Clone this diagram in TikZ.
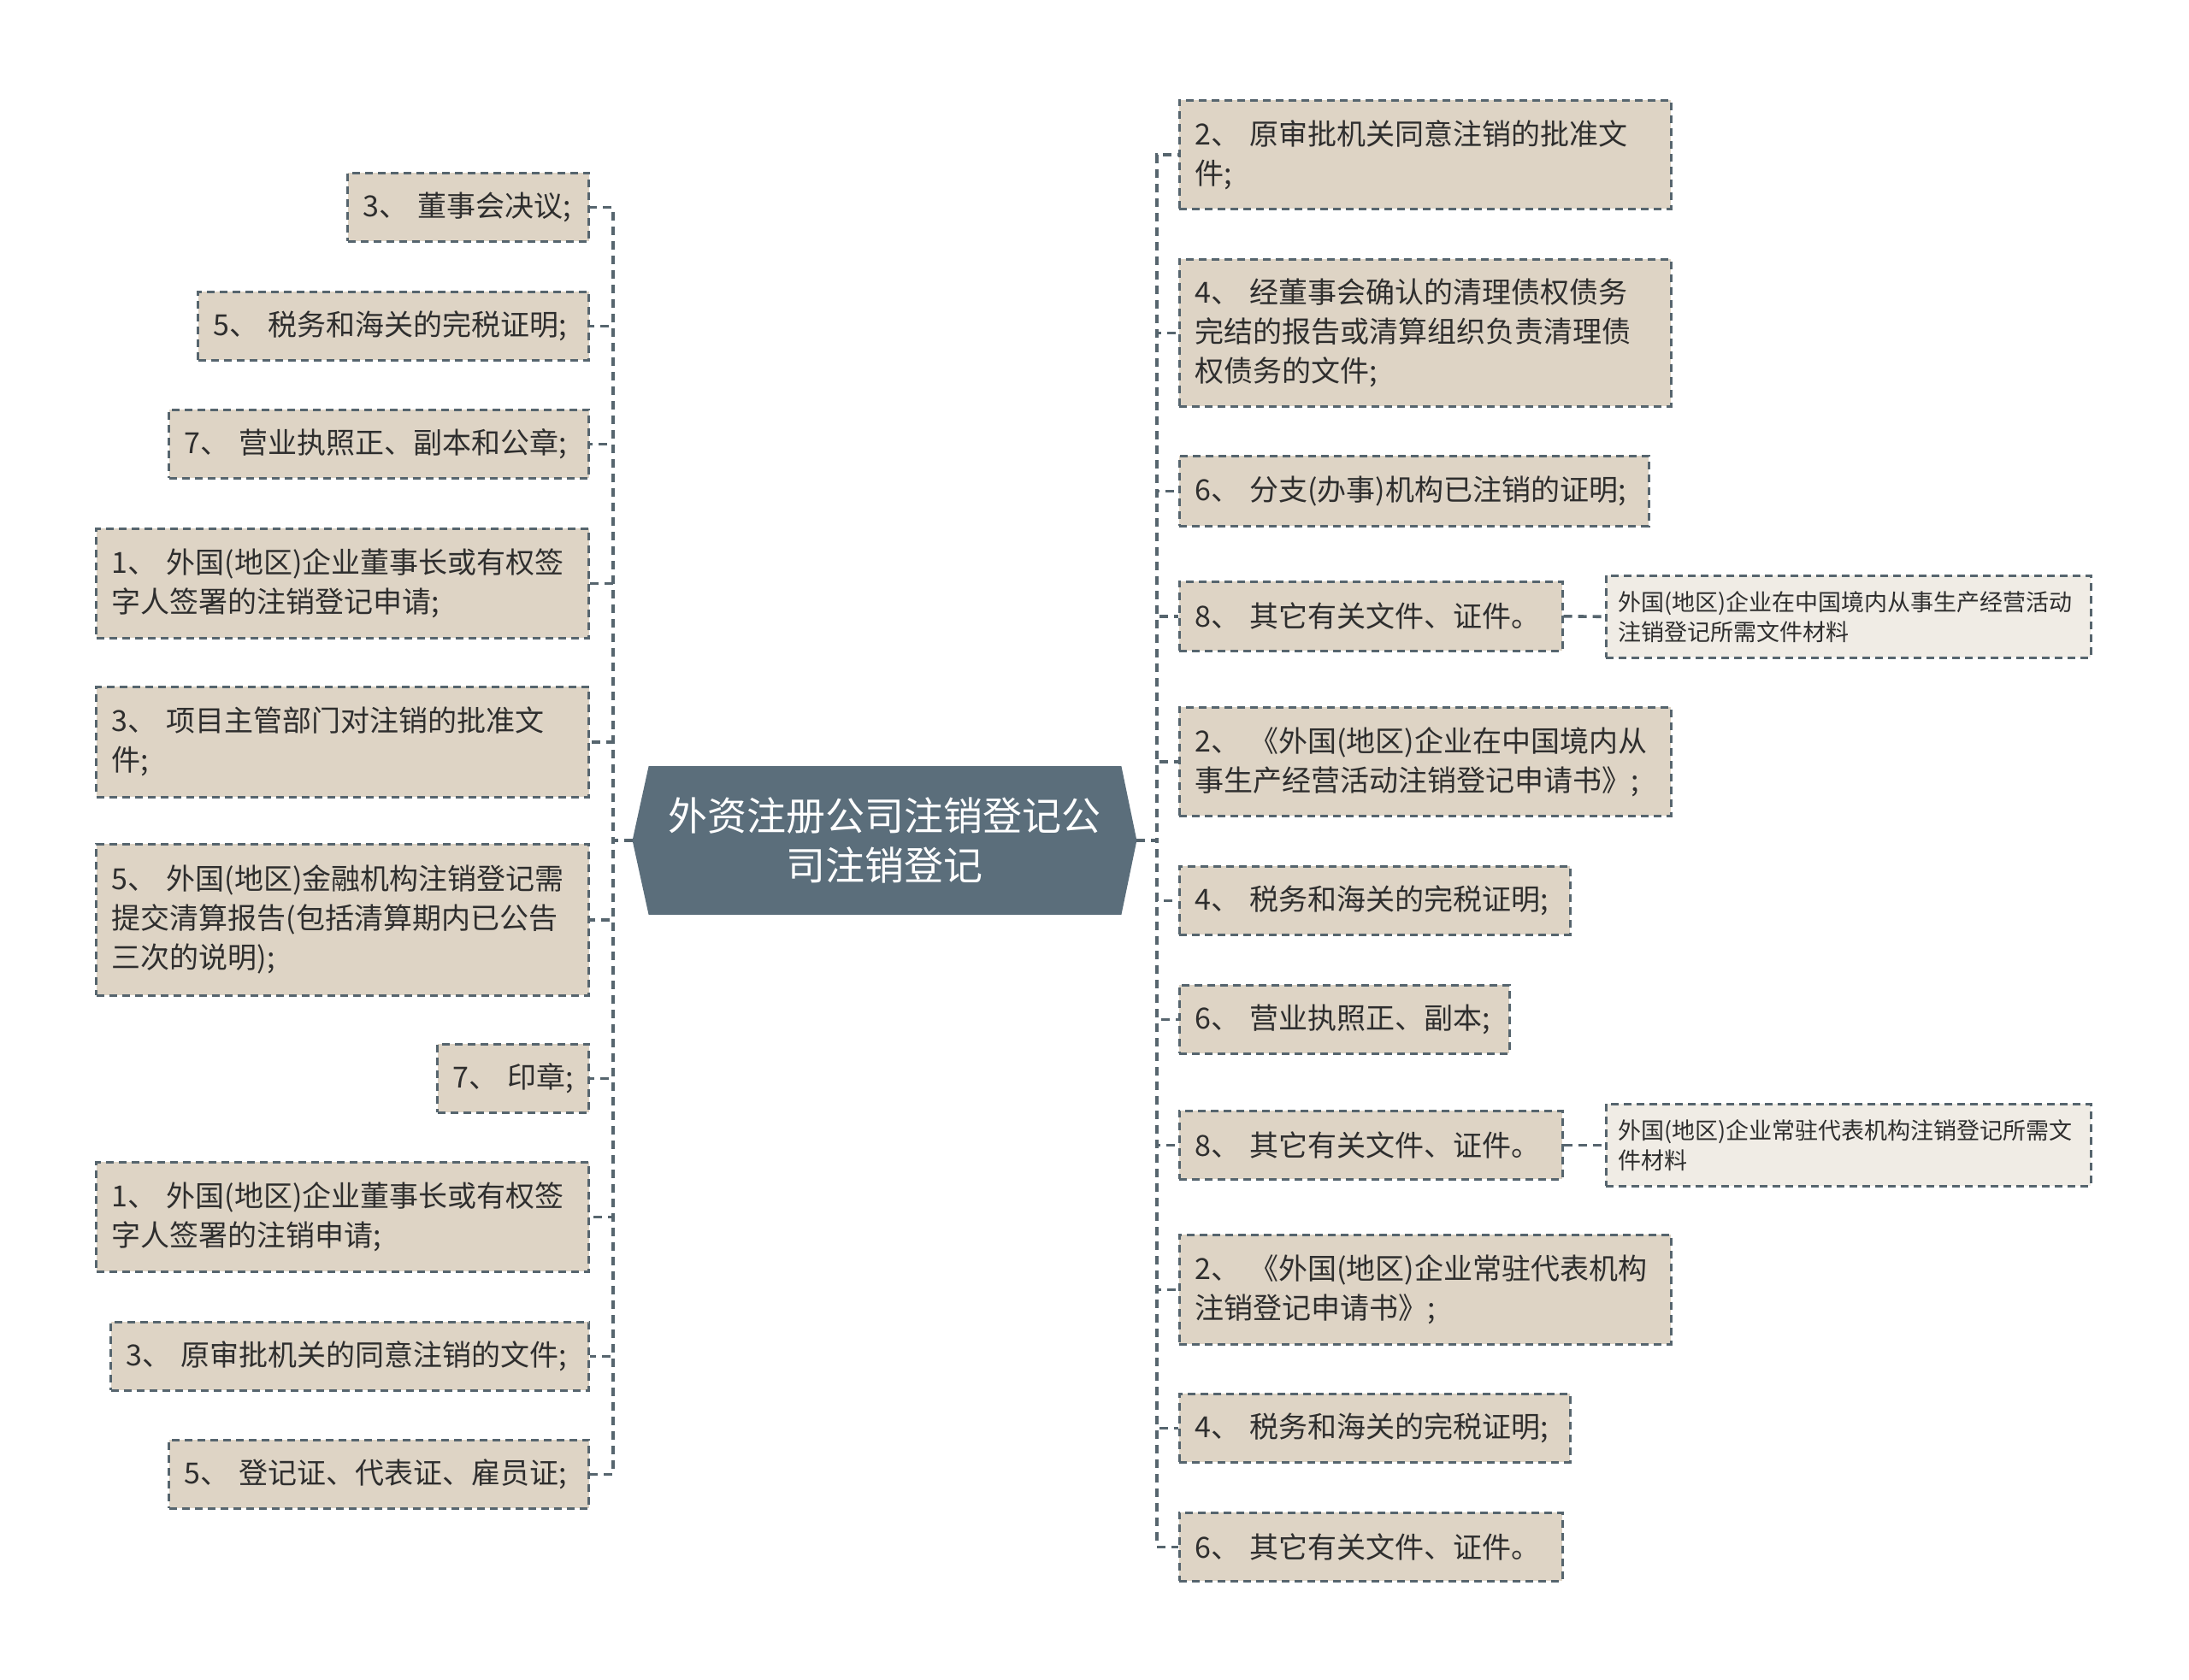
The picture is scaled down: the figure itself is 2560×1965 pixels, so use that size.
\documentclass[tikz,border=0pt]{standalone}
\usepackage{fontspec}
\setmainfont{Noto Sans CJK SC}
\usetikzlibrary{backgrounds}
\definecolor{boxfill}{HTML}{DED4C5}
\definecolor{subfill}{HTML}{F0ECE5}
\definecolor{bordercol}{HTML}{56656E}
\definecolor{centerfill}{HTML}{5B6E7B}
\definecolor{textcol}{HTML}{2E2E2E}
\tikzset{
  itembox/.style={rectangle, draw=bordercol, fill=boxfill, line width=1.3pt,
    dash pattern=on 4.5pt off 3pt, text=textcol,
    font=\fontsize{17}{23}\selectfont, inner xsep=9pt, inner ysep=0pt, align=left},
  subbox/.style={itembox, fill=subfill, font=\fontsize{13.5}{17.5}\selectfont, inner xsep=7pt},
  conn/.style={draw=bordercol, line width=1.8pt, dash pattern=on 5pt off 3.5pt},
  lbox/.style={itembox, anchor=north east},
  rbox/.style={itembox, anchor=north west},
}
\begin{document}
\begin{tikzpicture}[x=0.5pt, y=-0.5pt]
\useasboundingbox (0,0) rectangle (2560,1965);

% centre
\node[rectangle, minimum width=294.5pt, minimum height=86.5pt, inner sep=0pt, text=white,
  font=\fontsize{23}{29}\selectfont, align=center] (C) at (1034.5,983) {外资注册公司注销登记公\\司注销登记};
\begin{scope}[on background layer]
\fill[white] (0,0) rectangle (2560,1965);
\fill[centerfill] (C.west) -- ([xshift=9.5pt]C.north west) -- ([xshift=-9pt]C.north east) -- (C.east)
  -- ([xshift=-9pt]C.south east) -- ([xshift=9.5pt]C.south west) -- cycle;
\end{scope}
\coordinate (ls) at (717,983);
\coordinate (rs) at (1353,983);

% left items
\node[lbox, text width=123pt, minimum height=40pt] (L1) at (690,201) {3、~董事会决议;};
\node[lbox, text width=210.5pt, minimum height=40pt] (L2) at (690,340) {5、~税务和海关的完税证明;};
\node[lbox, text width=227.5pt, minimum height=40pt] (L3) at (690,478) {7、~营业执照正、副本和公章;};
\node[lbox, text width=270pt, minimum height=64pt] (L4) at (690,617) {1、~外国(地区)企业董事长或有权签\\字人签署的注销登记申请;};
\node[lbox, text width=270pt, minimum height=64.5pt] (L5) at (690,802) {3、~项目主管部门对注销的批准文\\件;};
\node[lbox, text width=270pt, minimum height=88.5pt] (L6) at (690,986) {5、~外国(地区)金融机构注销登记需\\提交清算报告(包括清算期内已公告\\三次的说明);};
\node[lbox, text width=70.5pt, minimum height=40pt] (L7) at (690,1220) {7、~印章;};
\node[lbox, text width=270pt, minimum height=64pt] (L8) at (690,1358) {1、~外国(地区)企业董事长或有权签\\字人签署的注销申请;};
\node[lbox, text width=261.5pt, minimum height=40pt] (L9) at (690,1545) {3、~原审批机关的同意注销的文件;};
\node[lbox, text width=227.5pt, minimum height=40pt] (L10) at (690,1683) {5、~登记证、代表证、雇员证;};

% right items
\node[rbox, text width=269.5pt, minimum height=63.5pt] (R1) at (1378,116) {2、~原审批机关同意注销的批准文\\件;};
\node[rbox, text width=269.5pt, minimum height=86pt] (R2) at (1378,302) {4、~经董事会确认的清理债权债务\\完结的报告或清算组织负责清理债\\权债务的文件;};
\node[rbox, text width=256.5pt, minimum height=41pt] (R3) at (1378,532) {6、~分支(办事)机构已注销的证明;};
\node[rbox, text width=206pt, minimum height=40.5pt] (R4) at (1378,679) {8、~其它有关文件、证件。};
\node[rbox, text width=269.5pt, minimum height=63.5pt] (R5) at (1378,826) {2、~《外国(地区)企业在中国境内从\\事生产经营活动注销登记申请书》;};
\node[rbox, text width=210.5pt, minimum height=40pt] (R6) at (1378,1012) {4、~税务和海关的完税证明;};
\node[rbox, text width=175pt, minimum height=40pt] (R7) at (1378,1151) {6、~营业执照正、副本;};
\node[rbox, text width=206pt, minimum height=40pt] (R8) at (1378,1298) {8、~其它有关文件、证件。};
\node[rbox, text width=269.5pt, minimum height=64pt] (R9) at (1378,1443) {2、~《外国(地区)企业常驻代表机构\\注销登记申请书》;};
\node[rbox, text width=210.5pt, minimum height=40pt] (R10) at (1378,1629) {4、~税务和海关的完税证明;};
\node[rbox, text width=206pt, minimum height=40pt] (R11) at (1378,1768) {6、~其它有关文件、证件。};

% sub items
\node[subbox, anchor=north west, text width=269.5pt, minimum height=48pt] (S1) at (1877,672) {外国(地区)企业在中国境内从事生产经营活动\\注销登记所需文件材料};
\node[subbox, anchor=north west, text width=269.5pt, minimum height=48pt] (S2) at (1877,1290) {外国(地区)企业常驻代表机构注销登记所需文\\件材料};

% connectors
\foreach \n in {L1,L2,L3,L4,L5,L6,L7,L8,L9,L10}
  \draw[conn] (C.west) -- (ls) |- (\n.east);
\foreach \n in {R1,R2,R3,R4,R5,R6,R7,R8,R9,R10,R11}
  \draw[conn] (C.east) -- (rs) |- (\n.west);
\draw[conn] (R4.east) -- (S1.west);
\draw[conn] (R8.east) -- (S2.west);
\end{tikzpicture}
\end{document}
